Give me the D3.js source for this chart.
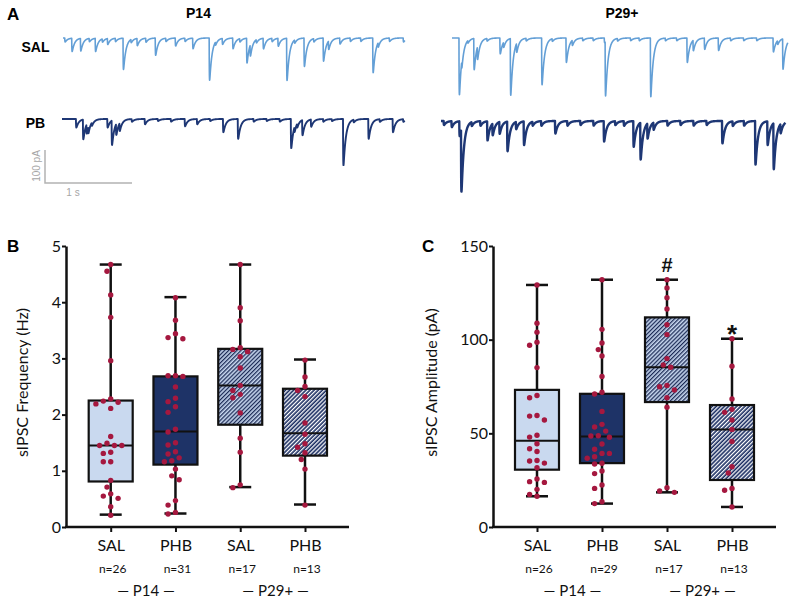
<!DOCTYPE html>
<html><head><meta charset="utf-8">
<script src="https://cdn.jsdelivr.net/npm/d3@7"></script>
<style>body{margin:0;background:#fff}svg{display:block}</style>
</head><body><svg id="c" width="800" height="599"></svg>
<script>
// ---------- DATA ----------
const groups = ["SAL","PHB","SAL","PHB"];
const ages = ["P14","P14","P29+","P29+"];
const nFreq = ["n=26","n=31","n=17","n=13"];
const nAmp = ["n=26","n=29","n=17","n=13"];
const freqTicks = [0,1,2,3,4,5];
const ampTicks = [0,50,100,150];

// box stats [min, q1, median, q3, max]
const freqStats = [
  [0.22,0.81,1.45,2.25,4.67],
  [0.24,1.11,1.70,2.68,4.09],
  [0.71,1.82,2.52,3.17,4.67],
  [0.40,1.27,1.67,2.46,2.98]
];
const ampStats = [
  [16.4,30.6,46.0,73.2,129.2],
  [12.5,34.1,48.3,71.1,132.0],
  [18.5,66.7,85.3,111.9,132.0],
  [10.7,25.1,52.1,65.1,100.5]
];
const freqP14SAL = [4.67,4.55,4.13,3.73,2.96,2.28,2.24,2.19,2.22,2.11,1.61,1.49,1.45,1.45,1.45,1.33,1.31,1.16,1.16,0.83,0.59,0.71,0.55,0.51,0.36,0.21];
const freqP14PHB = [4.08,3.68,3.44,3.35,3.37,2.69,2.68,2.69,2.49,2.29,2.23,2.14,2.04,1.74,1.69,1.50,1.46,1.30,1.34,1.18,1.16,1.23,1.03,0.91,0.84,0.47,0.39,0.26,0.23];
const freqP29SAL = [4.67,3.90,3.67,3.12,3.19,3.16,3.03,2.83,2.43,2.52,2.36,2.30,2.03,1.58,1.33,0.70,0.75];
const freqP29PHB = [2.97,2.67,2.50,2.43,2.32,1.85,1.65,1.48,1.42,1.32,1.20,1.03,0.39];
const ampP14SAL = [129.2,108.8,104.0,98.6,97.0,85.1,70.2,69.0,59.5,59.2,57.1,49.0,48.0,44.4,41.8,40.3,35.2,35.5,34.1,31.6,24.2,25.6,23.8,20.1,17.4,16.4];
const ampP14PHB = [132.0,105.5,98.2,94.7,91.3,80.4,71.9,71.0,61.7,54.8,53.4,51.2,48.6,47.9,48.7,44.3,41.5,39.3,39.3,37.5,36.7,34.0,33.6,28.5,29.9,22.4,20.6,12.5,13.5];
const ampP29SAL = [132.0,127.6,122.4,116.4,108.0,102.7,89.9,85.3,86.5,74.9,73.1,75.6,69.0,63.9,21.0,18.5,19.2];
const ampP29PHB = [100.5,85.8,68.3,61.2,62.8,57.1,52.1,45.7,32.2,28.8,20.6,19.6,10.7];
const freqPoints = [freqP14SAL,freqP14PHB,freqP29SAL,freqP29PHB];
const ampPoints = [ampP14SAL,ampP14PHB,ampP29SAL,ampP29PHB];
const ampMarks = ["","","#","*"];

// traces: event times (s) and amplitudes (pA)
const p14SalT = [0.02,0.10,0.20,0.30,0.37,0.45,0.51,0.60,0.69,0.78,0.85,0.95,1.06,1.18,1.29,1.40,1.49,1.68,1.75,1.83,1.95,2.03,2.11,2.15,2.22,2.30,2.40,2.47,2.57,2.66,2.77,2.88,2.99,3.05,3.18,3.30,3.42,3.56,3.62,3.75,3.91];
const p14SalA = [12,40,38,10,40,10,18,10,95,10,22,12,52,10,24,10,32,128,10,18,32,10,75,35,10,32,10,24,128,10,86,10,70,26,18,10,10,105,14,10,12];
const p14PbT = [0.16,0.24,0.28,0.30,0.34,0.52,0.57,0.62,0.66,0.80,0.95,1.10,1.25,1.41,1.55,1.70,1.85,2.02,2.20,2.35,2.50,2.63,2.67,2.70,2.76,2.86,3.00,3.10,3.23,3.35,3.52,3.65,3.80,3.92];
const p14PbA = [26,60,28,20,10,26,74,34,24,8,16,6,8,22,16,6,40,60,8,6,8,88,16,12,46,22,8,6,140,8,60,8,40,8];
const p29SalT = [0.08,0.11,0.18,0.25,0.29,0.40,0.55,0.59,0.67,0.74,0.85,1.03,1.15,1.31,1.38,1.50,1.62,1.75,1.76,1.90,2.05,2.15,2.28,2.45,2.58,2.70,2.77,2.90,3.06,3.20,3.35,3.50,3.69,3.74,3.80];
const p29SalA = [172,24,8,95,40,8,48,16,172,28,8,142,8,74,16,8,8,14,165,8,8,8,178,8,8,74,32,34,38,8,8,8,42,12,92];
const p29PbT = [0.03,0.12,0.21,0.23,0.35,0.45,0.53,0.59,0.67,0.76,0.86,0.95,1.05,1.15,1.31,1.45,1.60,1.75,1.87,2.00,2.10,2.21,2.29,2.37,2.44,2.60,2.75,2.90,3.05,3.23,3.35,3.48,3.61,3.75,3.82,3.90];
const p29PbA = [12,18,45,190,12,14,58,36,36,90,22,72,12,14,38,14,12,14,62,12,14,78,112,46,22,14,12,14,12,68,14,14,132,72,140,28];

// ---------- DRAW ----------
const svg = d3.select("#c");
const FONT = "Lato, 'Open Sans', sans-serif";
const BOLD = "'Liberation Sans', Arial, sans-serif";

// patterns
const defs = svg.append("defs");
function hatch(id, bg, fg){
  const p = defs.append("pattern").attr("id",id).attr("patternUnits","userSpaceOnUse")
    .attr("width",2.9).attr("height",10).attr("patternTransform","rotate(45)");
  p.append("rect").attr("width",2.9).attr("height",10).attr("fill",bg);
  p.append("line").attr("x1",0.6).attr("x2",0.6).attr("y1",0).attr("y2",10).attr("stroke",fg).attr("stroke-width",1.3);
}
hatch("hSal","#c6d6ee","#1b2a55");
hatch("hPhb","#1c2f63","#ffffff");
const fills = ["#c9d9ef","#1e3367","url(#hSal)","url(#hPhb)"];

// Panel A
const traceCol = {sal:"#639fd6", pb:"#1e3775"};
const pxPerSec = 87, pxPerPa = 0.33;
function drawTrace(x0, base, dur, T, A, col, w){
  const xs = d3.scaleLinear().domain([0,dur]).range([x0, x0+dur*pxPerSec]);
  const ys = d3.scaleLinear().domain([0,100]).range([base, base+100*pxPerPa]);
  const tau = 0.028, rise = 0.002, dt = 0.001;
  const sp = rise*Math.log(1+tau/rise);
  const norm = (1-Math.exp(-sp/rise))*Math.exp(-sp/tau);
  const pts = [];
  for(let t=0;t<=dur+1e-9;t+=dt){
    let v=0;
    for(let i=0;i<T.length;i++){
      const s=t-T[i];
      if(s>=0) v += A[i]/norm*(1-Math.exp(-s/rise))*Math.exp(-s/tau);
    }
    pts.push([t,v]);
  }
  svg.append("path").attr("d", d3.line().x(d=>xs(d[0])).y(d=>ys(d[1]))(pts))
    .attr("fill","none").attr("stroke",col).attr("stroke-width",w).attr("stroke-linejoin","round");
}
drawTrace(63,38,3.93,p14SalT,p14SalA,traceCol.sal,1.6);
drawTrace(62,119,3.94,p14PbT,p14PbA,traceCol.pb,1.9);
drawTrace(452,38,3.86,p29SalT,p29SalA,traceCol.sal,1.6);
drawTrace(441,121,3.96,p29PbT,p29PbA,traceCol.pb,2.4);

svg.append("text").attr("x",7).attr("y",20).text("A").attr("font-family",BOLD).attr("font-weight","bold").attr("font-size",17);
svg.append("text").attr("x",198.5).attr("y",18).text("P14").attr("text-anchor","middle").attr("font-family",BOLD).attr("font-weight","bold").attr("font-size",14);
svg.append("text").attr("x",622).attr("y",18).text("P29+").attr("text-anchor","middle").attr("font-family",BOLD).attr("font-weight","bold").attr("font-size",14);
svg.append("text").attr("x",35.5).attr("y",52).text("SAL").attr("text-anchor","middle").attr("font-family",BOLD).attr("font-weight","bold").attr("font-size",14);
svg.append("text").attr("x",35.5).attr("y",128).text("PB").attr("text-anchor","middle").attr("font-family",BOLD).attr("font-weight","bold").attr("font-size",14);
// scale bar
svg.append("path").attr("d","M45,150V183H132").attr("fill","none").attr("stroke","#b3b3b3").attr("stroke-width",1.5);
svg.append("text").attr("transform","translate(40,166) rotate(-90)").attr("text-anchor","middle").text("100 pA")
  .attr("font-family",BOLD).attr("font-size",10).attr("fill","#a6a6a6");
svg.append("text").attr("x",73).attr("y",196).attr("text-anchor","middle").text("1 s")
  .attr("font-family",BOLD).attr("font-size",10).attr("fill","#a6a6a6");

// Box panels
function panel(opt){
  const {left,right,top,bottom,yDomain,ticks,stats,points,label,letter,nLabels,marks,c0,c1} = opt;
  const g = svg.append("g");
  const keys = groups.map((d,i)=>ages[i]+" "+d);
  const x = d3.scalePoint().domain(keys).range([c0,c1]);
  const y = d3.scaleLinear().domain(yDomain).range([bottom,top]);
  const bw = 44, cap = 11, r = 2.7;

  stats.forEach((s,i)=>{
    const cx = x(keys[i]);
    g.append("line").attr("x1",cx).attr("x2",cx).attr("y1",y(s[4])).attr("y2",y(s[0])).attr("stroke","#111").attr("stroke-width",2.5);
    [s[0],s[4]].forEach(v=>g.append("line").attr("x1",cx-cap).attr("x2",cx+cap).attr("y1",y(v)).attr("y2",y(v)).attr("stroke","#111").attr("stroke-width",2.5));
    g.append("rect").attr("x",cx-bw/2).attr("width",bw).attr("y",y(s[3])).attr("height",y(s[1])-y(s[3]))
      .attr("fill",fills[i]).attr("stroke","#111").attr("stroke-width",2.2);
    g.append("line").attr("x1",cx-bw/2).attr("x2",cx+bw/2).attr("y1",y(s[2])).attr("y2",y(s[2])).attr("stroke","#111").attr("stroke-width",2);
  });
  points.forEach((arr,i)=>{
    const cx = x(keys[i]);
    const placed = [];
    const sorted = arr.slice().sort((a,b)=>b-a);
    const step = 3.7, dmin = 6.8;
    sorted.forEach(v=>{
      const py = y(v);
      let off=0;
      const cands=[0];
      for(let j=1;j<8;j++){cands.push(-j*step);cands.push(j*step);}
      for(const c of cands){
        if(placed.every(p=>Math.hypot(p[0]-c,p[1]-py)>=dmin)){off=c;break;}
      }
      placed.push([off,py]);
    });
    g.selectAll(null).data(placed).join("circle").attr("cx",d=>cx+d[0]).attr("cy",d=>d[1]).attr("r",r).attr("fill","#a5183f");
  });
  const ya = g.append("g").attr("transform",`translate(${left},0)`)
    .call(d3.axisLeft(y).tickValues(ticks).tickFormat(d3.format("d")).tickSize(4).tickPadding(1).tickSizeOuter(0));
  ya.select(".domain").attr("stroke-width",2.5).attr("stroke","#111");
  ya.selectAll(".tick line").attr("stroke-width",2).attr("stroke","#111");
  ya.selectAll("text").attr("font-family",FONT).attr("font-size",16).attr("fill","#111");
  const xa = g.append("g").attr("transform",`translate(0,${bottom})`)
    .call(d3.axisBottom(x).tickSize(5).tickPadding(8).tickSizeOuter(0).tickFormat((d,i)=>groups[i]));
  xa.select(".domain").attr("d",`M${left-1},0H${right}`).attr("stroke-width",2.5).attr("stroke","#111");
  xa.selectAll(".tick line").attr("stroke-width",2).attr("stroke","#111");
  xa.selectAll("text").attr("font-family",FONT).attr("font-size",16).attr("fill","#111");
  keys.forEach((k,i)=>g.append("text").attr("x",x(k)+2).attr("y",573).attr("text-anchor","middle").text(nLabels[i])
    .attr("font-family",FONT).attr("font-size",12).attr("fill","#111"));
  ["P14","P29+"].forEach((a,j)=>{
    const mid = (x(keys[j*2])+x(keys[j*2+1]))/2 + 3;
    g.append("text").attr("x",mid).attr("y",596).attr("text-anchor","middle").text("\u2014 "+a+" \u2014")
      .attr("font-family",FONT).attr("font-size",15).attr("fill","#111");
  });
  marks.forEach((m,i)=>{
    if(!m) return;
    const s = stats[i];
    const isStar = m==="*";
    g.append("text").attr("x",x(keys[i])).attr("y",y(s[4]) + (isStar?4:-8)).attr("text-anchor","middle").text(m)
      .attr("font-family",BOLD).attr("font-weight","bold").attr("font-size",isStar?26:20).attr("fill","#111");
  });
  g.append("text").attr("transform",`translate(${opt.labelX},${(top+bottom)/2-4}) rotate(-90)`).attr("text-anchor","middle")
    .text(label).attr("font-family",FONT).attr("font-size",16).attr("fill","#111");
  svg.append("text").attr("x",opt.letterX).attr("y",252).text(letter).attr("font-family",BOLD).attr("font-weight","bold").attr("font-size",17);
}

panel({left:66,right:349,top:246,bottom:527,yDomain:[0,5],ticks:freqTicks,stats:freqStats,points:freqPoints,
  label:"sIPSC Frequency (Hz)",letter:"B",letterX:7,labelX:28,nLabels:nFreq,marks:["","","",""],c0:110.7,c1:305});
panel({left:493,right:776,top:246,bottom:527,yDomain:[0,150],ticks:ampTicks,stats:ampStats,points:ampPoints,
  label:"sIPSC Amplitude (pA)",letter:"C",letterX:422,labelX:437,nLabels:nAmp,marks:ampMarks,c0:537,c1:732});
</script></body></html>
